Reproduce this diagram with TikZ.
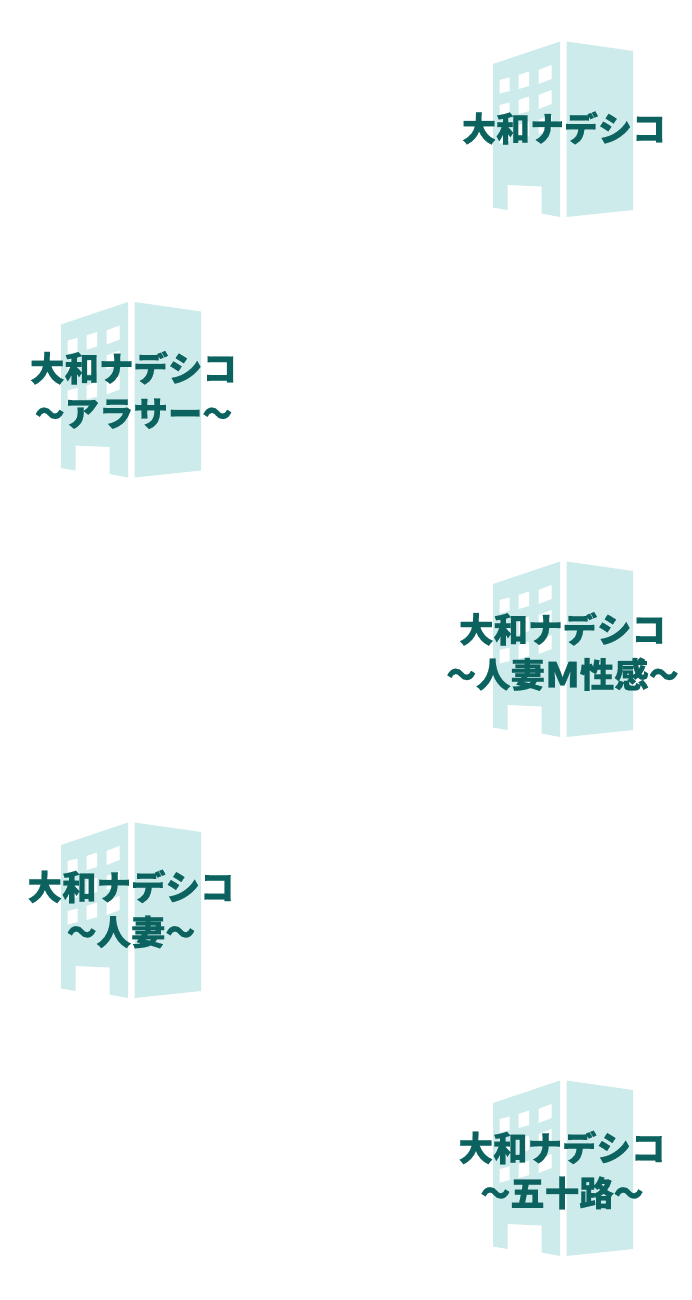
\documentclass[tikz,border=0pt]{standalone}
\usepackage{fontspec}
\newfontfamily\cjk[FakeBold=0.6]{Noto Sans CJK JP Black}
\newcommand{\wavedash}{\scalebox{0.86}[1]{～}}
\newcommand{\wideM}{\scalebox{1.15}[1]{M}}
\definecolor{wall}{HTML}{CEEBEB}
\definecolor{sign}{HTML}{0B625F}
\tikzset{
  signtext/.style={font=\cjk\fontsize{34}{45}\selectfont, text=sign, align=center, inner sep=0pt},
  bigsign/.style={signtext, font=\cjk\fontsize{34.5}{45}\selectfont},
  window/.style={fill=white},
  building/.pic={
    \fill[wall] (493,64) -- (560,41.5) -- (560,217) -- (541.5,213.5) -- (541.5,186.5) -- (507.5,185) -- (507.5,210) -- (493,207.5) -- cycle;
    \fill[wall] (566.5,41.5) -- (633,51) -- (633,210) -- (566.5,217) -- cycle;
    \foreach \r in {0,25,50} {
      \fill[window] (499.7,80+\r) -- (509.7,77.5+\r) -- (509.7,91+\r) -- (499.7,93.5+\r) -- cycle;
      \fill[window] (518.5,75+\r) -- (529,71.5+\r) -- (529,86+\r) -- (518.5,89+\r) -- cycle;
      \fill[window] (538.5,70+\r) -- (551.5,65+\r) -- (551.5,79+\r) -- (538.5,84+\r) -- cycle;
    }
  }
}
\begin{document}
\begin{tikzpicture}[x=1pt,y=-1pt]
  \useasboundingbox (0,0) rectangle (691,1300);
  \pic at (0,0) {building};
  \pic at (-432,260.5) {building};
  \pic at (0,520) {building};
  \pic at (-432,781) {building};
  \pic at (0,1039) {building};
  \node[signtext] (sign1) at (564,128) {大和ナデシコ};
  \node[bigsign] (sign2) at (133.5,390) {大和ナデシコ\\\wavedash アラサー\wavedash};
  \node[bigsign] (sign3) at (562.5,651.5) {大和ナデシコ\\\wavedash 人妻\wideM 性感\wavedash};
  \node[bigsign] (sign4) at (131,909) {大和ナデシコ\\\wavedash 人妻\wavedash};
  \node[bigsign] (sign5) at (562,1170) {大和ナデシコ\\\wavedash 五十路\wavedash};
\end{tikzpicture}
\end{document}
